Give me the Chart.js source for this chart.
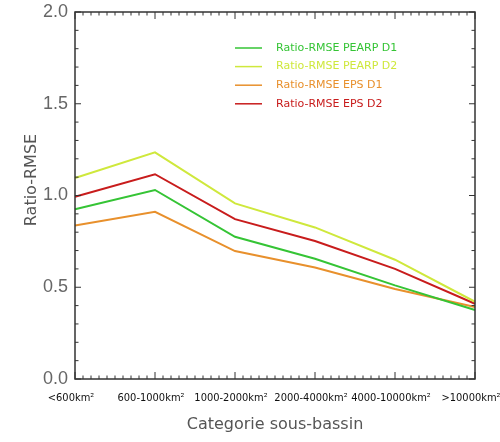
<!DOCTYPE html>
<html>
<head>
<meta charset="utf-8">
<script src="https://cdn.jsdelivr.net/npm/chart.js@4.4.1/dist/chart.umd.min.js"></script>
<style>
  html, body { margin: 0; padding: 0; background: #fff; }
  #wrap { width: 500px; height: 442px; }
</style>
</head>
<body>
<div id="wrap"><canvas id="ratioChart" width="500" height="442"></canvas></div>
<script>
const categories = ['<600km²', '600-1000km²', '1000-2000km²', '2000-4000km²', '4000-10000km²', '>10000km²'];
const seriesNames = ['Ratio-RMSE PEARP D1', 'Ratio-RMSE PEARP D2', 'Ratio-RMSE EPS D1', 'Ratio-RMSE EPS D2'];
const pearpD1 = [0.925, 1.03, 0.775, 0.655, 0.51, 0.376];
const pearpD2 = [1.095, 1.235, 0.957, 0.826, 0.65, 0.421];
const epsD1 = [0.837, 0.911, 0.697, 0.608, 0.49, 0.392];
const epsD2 = [0.993, 1.116, 0.871, 0.752, 0.6, 0.41];
const yTicks = [0, 0.5, 1.0, 1.5, 2.0];
const colors = ['#35c435', '#cfe83c', '#e8902c', '#c81c1c'];

const axisColor = '#333';

// frame + inward tick marks, like the IDL plot
const framePlugin = {
  id: 'frame',
  afterDatasetsDraw(chart) {
    const { ctx, chartArea: a, scales } = chart;
    const x = scales.x, y = scales.y;
    ctx.save();
    ctx.strokeStyle = axisColor;
    ctx.lineWidth = 1.5;
    ctx.strokeRect(a.left, a.top, a.right - a.left, a.bottom - a.top);
    ctx.lineWidth = 1;
    ctx.beginPath();
    // x ticks, 10 minor per category
    for (let i = 0; i < categories.length; i++) {
      const px = x.getPixelForValue(i);
      ctx.moveTo(px, a.bottom); ctx.lineTo(px, a.bottom - 7);
      ctx.moveTo(px, a.top); ctx.lineTo(px, a.top + 7);
      if (i < categories.length - 1) {
        const nx = x.getPixelForValue(i + 1);
        for (let k = 1; k < 10; k++) {
          const mx = px + (nx - px) * k / 10;
          ctx.moveTo(mx, a.bottom); ctx.lineTo(mx, a.bottom - 3.5);
          ctx.moveTo(mx, a.top); ctx.lineTo(mx, a.top + 3.5);
        }
      }
    }
    // y ticks every 0.1
    for (let k = 0; k <= 20; k++) {
      const py = y.getPixelForValue(k / 10);
      const len = k % 5 === 0 ? 6 : 3.5;
      ctx.moveTo(a.left, py); ctx.lineTo(a.left + len, py);
      ctx.moveTo(a.right, py); ctx.lineTo(a.right - len, py);
    }
    ctx.stroke();

    // legend inside the plot
    ctx.font = '11px "DejaVu Sans", sans-serif';
    ctx.textBaseline = 'middle';
    chart.data.datasets.forEach((ds, i) => {
      const ly = a.top + 36 + i * 18.6;
      ctx.strokeStyle = ds.borderColor;
      ctx.lineWidth = 1.5;
      ctx.beginPath();
      ctx.moveTo(a.left + 160, ly); ctx.lineTo(a.left + 187, ly);
      ctx.stroke();
      ctx.fillStyle = ds.borderColor;
      ctx.fillText(ds.label, a.left + 201, ly);
    });

    // y axis title
    ctx.fillStyle = '#555';
    ctx.font = '16px "DejaVu Sans", sans-serif';
    ctx.textAlign = 'center';
    ctx.translate(32, 180);
    ctx.rotate(-Math.PI / 2);
    ctx.fillText('Ratio-RMSE', 0, 0);
    ctx.restore();
  }
};

const datasets = [pearpD1, pearpD2, epsD1, epsD2].map((d, i) => ({
  label: seriesNames[i],
  data: d,
  borderColor: colors[i],
  backgroundColor: colors[i],
  borderWidth: 2,
  pointRadius: 0,
  tension: 0,
  fill: false
}));

new Chart(document.getElementById('ratioChart'), {
  type: 'line',
  data: { labels: categories, datasets: datasets },
  plugins: [framePlugin],
  options: {
    responsive: false,
    animation: false,
    layout: { padding: { left: 0, right: 25, top: 12, bottom: 0 } },
    plugins: {
      legend: { display: false },
      tooltip: { enabled: false }
    },
    scales: {
      x: {
        offset: false,
        grid: { display: false, drawTicks: false },
        border: { display: false },
        ticks: {
          color: '#111',
          font: { family: '"DejaVu Sans Condensed", sans-serif', size: 11 },
          padding: 13,
          labelOffset: -4,
          maxRotation: 0,
          autoSkip: false
        },
        title: {
          display: true,
          text: 'Categorie sous-bassin',
          color: '#555',
          font: { family: '"DejaVu Sans", sans-serif', size: 16 },
          padding: { top: 0, bottom: 8 }
        },
        afterFit(s) { s.height = 63; s.paddingLeft = 0; s.paddingRight = 0; }
      },
      y: {
        min: 0,
        max: 2,
        grid: { display: false, drawTicks: false },
        border: { display: false },
        afterBuildTicks(s) { s.ticks = yTicks.map(v => ({ value: v })); },
        ticks: {
          color: '#666',
          font: { family: '"Liberation Sans", sans-serif', size: 18 },
          padding: 7,
          callback: v => v.toFixed(1)
        },
        afterFit(s) { s.width = 75; s.paddingTop = 0; s.paddingBottom = 0; }
      }
    }
  }
});
</script>
</body>
</html>
